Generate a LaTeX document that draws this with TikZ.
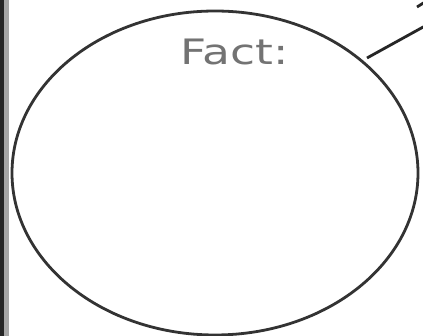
\documentclass[tikz,border=0pt]{standalone}
\usepackage{fontspec}
\setmainfont{DejaVu Sans}
\usetikzlibrary{shapes.geometric}
\begin{document}
\begin{tikzpicture}[x=1pt,y=-1pt,
  outline/.style={draw=black!80,line width=2.8pt},
  connector/.style={draw=black!85,line width=2.8pt},
  labeltext/.style={text=black!55,font=\fontsize{35}{38}\selectfont,xscale=1.3,inner sep=0pt}]
\useasboundingbox (0,0) rectangle (423,336);
\fill[white] (0,0) rectangle (423,336);
\fill[black!85] (0,0) rectangle (4,336);
\fill[black!35] (4,0) rectangle (9,336);
\node[outline,ellipse,minimum width=406pt,minimum height=324pt,inner sep=0pt] (fact) at (215,173) {};
\node[labeltext] (lbl) at (235,52) {Fact:};
\coordinate (start) at (367,58);
\coordinate (free) at (425,26);
\draw[connector] (start) -- (free);
\coordinate (m1) at (417,7);
\coordinate (m2) at (425,2);
\draw[connector] (m1) -- (m2);
\end{tikzpicture}
\end{document}
